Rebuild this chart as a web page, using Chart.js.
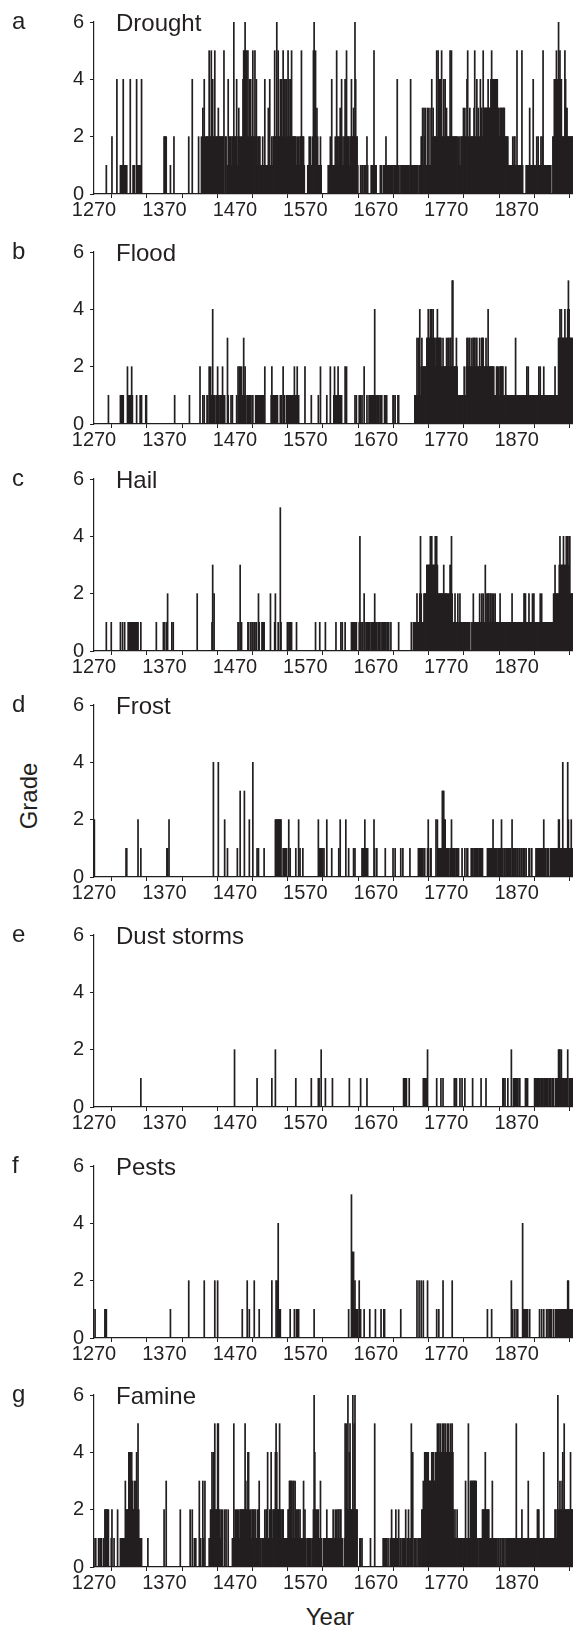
<!DOCTYPE html>
<html>
<head>
<meta charset="utf-8">
<script src="https://cdn.jsdelivr.net/npm/chart.js@4.4.1/dist/chart.umd.min.js"></script>
<style>
  html, body { margin: 0; padding: 0; background: #fff; }
  #fig { position: relative; width: 573px; height: 1627px; overflow: hidden; font-family: 'Liberation Sans', Arial, sans-serif; color: #231f20; }
  .panel { position: absolute; left: 0; width: 573px; }
  .axisTitle { position: absolute; font-size: 24px; white-space: nowrap; transform: translate(-50%, -50%); }
</style>
</head>
<body>
<div id="fig">
  <div class="axisTitle" style="left:29px; top:796px; transform: translate(-50%, -50%) rotate(-90deg);">Grade</div>
  <div class="axisTitle" style="left:330px; top:1617px;">Year</div>
</div>
<script>
const firstYear = 1270;
const lastYear = 1950;
const yearTicks = [1270, 1320, 1370, 1420, 1470, 1520, 1570, 1620, 1670, 1720, 1770, 1820, 1870, 1920];
const labelYears = [1270, 1370, 1470, 1570, 1670, 1770, 1870];
const gradeTicks = [0, 2, 4, 6];

const panelLetters = ['a', 'b', 'c', 'd', 'e', 'f', 'g'];
const panelTitles = ['Drought', 'Flood', 'Hail', 'Frost', 'Dust storms', 'Pests', 'Famine'];

// one digit per year, one string per decade (1270s, 1280s, ... 1940s)
const grades = decades => decades.join('').split('').map(Number);

const drought = grades([
  '0000000000', '0000000100', '0000020000',
  '0040000111', '1411111000', '0400011100', '4111110400', '0000000000', '0000000000', '0000000002', '2220000010', '0002000000', '0000000000',
  '0000200004', '0000000020', '0020324022', '2225225242', '2522223222', '2222502201', '4122212262', '2241232212', '2455655252', '4242252252',
  '4212221112', '1141101314', '1121225226', '2522424254', '4244254242', '5222222121', '2122522210', '0001121211', '2562523211', '1210000000',
  '0010121411', '1121522123', '2412124252', '2212242232', '6422100010', '1101110210', '0001111511', '1000001110', '0111211011', '1111101111',
  '4110101111', '1111111014', '1111011111', '0111223132', '3113131134', '2322225254', '4425224242', '3222252522', '2222221212', '1222323224',
  '5213222223', '5224232243', '3253333334', '3334544444', '4443323332', '3332222211', '1111212211', '5111111510', '0001111131', '1114111121',
  '2111212511', '1111111110', '0224245426', '4544222254', '3322222222'
]);

const flood = grades([
  '0000000000', '0000000000', '1000000000',
  '0000000111', '1100000211', '1112100000', '1000010100', '0001100000', '0000000000', '0000000000', '0000000000', '0000100000', '0000000000',
  '0000010000', '0000000000', '2000101000', '1102121141', '1101121101', '0121010003', '1000101000', '0010212212', '1131210101', '1010110001',
  '1111111111', '1120000000', '0121111101', '1000101021', '1001111111', '1111211121', '1000000002', '0000000010', '0000000010', '0200000000',
  '1000020000', '1211112111', '1100002020', '0000000000', '1010001010', '1002000100', '1111111141', '1011101010', '0011010000', '0000110100',
  '0110000000', '0000000000', '0000011131', '3141232222', '2233433434', '3433233433', '3332232222', '3233233255', '2222321111', '1111121123',
  '3233223233', '3233222322', '3332223224', '2222222211', '1221212222', '2111211111', '1111111131', '1111111011', '1111212111', '1111111111',
  '1212111121', '1111111111', '1111211113', '3434333343', '3345433333'
]);

const hail = grades([
  '0000000000', '0000000100', '0000100000',
  '0000000100', '1001000011', '1111111111', '1110001000', '0000000000', '0000000010', '0000000011', '0010200000', '1010000000', '0000000000',
  '0000000000', '0000002000', '0000000000', '0000000130', '2000000000', '0000000000', '0000000000', '0000110301', '0000000011', '0010110110',
  '1002100011', '1100000000', '2000001200', '0100510000', '0000110111', '1000000100', '0000000000', '0000000000', '0000100000', '1000000010',
  '0000000000', '0001000000', '1010001000', '0000011111', '1110001410', '1102101111', '1101111121', '1101110101', '1011101010', '0100000000',
  '0010000000', '0000000000', '1001011121', '1124211122', '2233333434', '3333434322', '2222223222', '2212233421', '1121112112', '1111111111',
  '1111001121', '1111111211', '2121132122', '2122121212', '1111112111', '1111111111', '1112111111', '1111111011', '2221111211', '1121211111',
  '1112121111', '1011111111', '1122322222', '3433334333', '4343442222'
]);

const frost = grades([
  '2000000000', '0000000000', '0000000000',
  '0000000000', '0000011000', '0000000000', '0020001000', '0000000000', '0000000000', '0000000000', '0001102000', '0000000000', '0000000000',
  '0000000000', '0000000000', '0000000000', '0000000004', '0000004000', '0000020001', '0000000000', '0001000300', '0003000000', '2000040000',
  '0101000000', '0100000000', '0000000222', '2222220011', '1111002010', '0000001000', '2010001000', '0000000000', '0000000020', '1101101000',
  '2000000100', '0000000102', '0000000200', '0100000010', '1000000000', '1111211110', '0000000210', '0100000000', '0001000000', '0000100100',
  '0000010010', '0000000010', '0000000000', '1011101011', '0001200110', '0000020211', '1111333221', '1111011211', '1110110100', '0010001001',
  '1000011101', '1101101111', '1100000011', '1111112111', '1101111121', '1011011011', '1102110110', '1101101101', '0101000110', '0100000111',
  '1111111121', '1101010011', '1111111112', '2111141111', '1142111211'
]);

const dustStorms = grades([
  '0000000000', '0000000000', '0000000000',
  '0000000000', '0000000000', '0000000000', '0000001000', '0000000000', '0000000000', '0000000000', '0000000000', '0000000000', '0000000000',
  '0000000000', '0000000000', '0000000000', '0000000000', '0000000000', '0000000000', '0000000002', '0000000000', '0000000000', '0000000000',
  '0100000000', '0000000000', '0010000200', '0000000000', '0000000000', '0000001000', '0000000000', '0000000010', '0000000011', '0020000010',
  '0000000010', '0000000000', '0000000000', '0010000000', '0000000010', '0000000100', '0000000000', '0000000000', '0000000000', '0000000000',
  '0000000001', '1111000100', '0000000000', '0000000111', '1112000000', '0000001000', '0010010000', '0000000000', '0110100001', '0010001000',
  '0000000100', '0000000001', '0000001000', '0000000000', '0000000000', '1101000100', '0020011011', '1101100000', '0011010000', '0000011011',
  '1110111101', '1011101110', '1010011112', '2212111111', '1120111111'
]);

const pests = grades([
  '0100000000', '0000011100', '0000000000',
  '0000000000', '0000000000', '0000000000', '0000000000', '0000000000', '0000000000', '0000000000', '0000000010', '0000000000', '0000000000',
  '0000200000', '0000000000', '0000002000', '0000000000', '0200020000', '0000000000', '0000000000', '0000000000', '1000000200', '1000000200',
  '0000100000', '0000000000', '0020000020', '2411100000', '0000000010', '0000100111', '1000000000', '0000000000', '0010000000', '0000000000',
  '0000000000', '0000000000', '0000000000', '0100053331', '2110102010', '0001000000', '0100000001', '0000000100', '0110000000', '0000000000',
  '0000010000', '0000000000', '0000000020', '0200200200', '0002000000', '0000001001', '0000020000', '0000000020', '0000000000', '0000000000',
  '0000000000', '0000000000', '0000000010', '0000100000', '0000000000', '0000000000', '0020100100', '1100000041', '1110110010', '0000000000',
  '0010010010', '0010101011', '0010011111', '1111111111', '1122111111'
]);

const famine = grades([
  '0110001011', '1001022222', '2000120010',
  '0002000111', '1111322224', '4424322323', '4252110100', '0000001000', '0000000000', '0000000002', '0030000000', '0000000000', '0020000000',
  '0000002002', '0010100003', '0100310300', '0001122424', '2522255221', '2020020200', '2000001051', '2122121222', '2222532244', '2121222122',
  '1122311011', '1121224112', '2421222454', '2225221221', '1111122333', '3133132212', '2121111312', '1011111101', '1264221221', '1310011111',
  '2111111112', '1121212212', '2110015252', '6245222625', '6222000110', '1000000000', '0010000050', '0000000000', '1011010100', '1021011021',
  '1020110101', '1020112011', '5140101010', '1011022324', '4444433334', '4433444545', '4544545454', '4545445454', '2121121111', '1111111311',
  '1511333333', '3331101111', '1222242222', '2111131111', '1101101101', '1101011011', '1111111115', '1111111211', '1111113111', '1111111112',
  '2211111141', '1111111011', '1111221262', '2322342522', '2222224222'
]);

const panelSeries = [drought, flood, hail, frost, dustStorms, pests, famine];

// layout: pixel row of each panel's zero line
const panelBaselines = [193.7, 424, 650.7, 877, 1107, 1337.7, 1567.3];
const plotHeight = 172, topPad = 22, xAxisHeight = 40, yAxisWidth = 94;
const ink = '#231f20';
const family = "'Liberation Sans', Arial, sans-serif";

// panel letter at far left, event name inside the plot next to the top tick
const panelText = {
  id: 'panelText',
  afterDatasetsDraw(chart) {
    const { ctx, chartArea } = chart;
    const o = chart.options.plugins.panelText;
    ctx.save();
    ctx.fillStyle = ink;
    ctx.textBaseline = 'alphabetic';
    ctx.textAlign = 'left';
    ctx.font = '24px ' + family;
    ctx.fillText(o.letter, 12, chartArea.top + 7);
    ctx.fillText(o.title, chartArea.left + 22, chartArea.top + 9);
    ctx.restore();
  }
};

const fig = document.getElementById('fig');

panelSeries.forEach((series, i) => {
  const div = document.createElement('div');
  div.className = 'panel';
  const h = topPad + plotHeight + xAxisHeight;
  div.style.top = (panelBaselines[i] - plotHeight - topPad) + 'px';
  div.style.height = h + 'px';
  const canvas = document.createElement('canvas');
  canvas.width = 573; canvas.height = h;
  div.appendChild(canvas);
  fig.appendChild(div);

  const axisStyle = {
    grid: { display: true, drawOnChartArea: false, drawTicks: true, tickLength: 4, color: ink, lineWidth: 1 },
    border: { display: true, color: ink, width: 1.2 }
  };

  new Chart(canvas, {
    type: 'bar',
    data: {
      datasets: [{
        data: series.map((g, k) => ({ x: firstYear + k + 0.5, y: g })),
        backgroundColor: ink, borderWidth: 0, barThickness: 1.05, grouped: false
      }]
    },
    options: {
      responsive: false, animation: false, events: [],
      layout: { padding: { top: topPad, right: 0, left: 0, bottom: 0 } },
      plugins: { legend: { display: false }, tooltip: { enabled: false }, panelText: { letter: panelLetters[i], title: panelTitles[i] } },
      scales: {
        x: {
          type: 'linear', min: firstYear, max: lastYear, offset: false,
          afterBuildTicks: s => { s.ticks = yearTicks.map(v => ({ value: v })); },
          afterFit: s => { s.height = xAxisHeight; },
          ticks: { autoSkip: false, maxRotation: 0, padding: 0, color: ink, font: { family, size: 20, lineHeight: 1.2 },
                   callback: v => labelYears.includes(v) ? String(v) : '' },
          ...axisStyle
        },
        y: {
          min: 0, max: 6,
          afterBuildTicks: s => { s.ticks = gradeTicks.map(v => ({ value: v })); },
          afterFit: s => { s.width = yAxisWidth; },
          ticks: { padding: 6, color: ink, font: { family, size: 20 } },
          ...axisStyle
        }
      }
    },
    plugins: [panelText]
  });
});
</script>
</body>
</html>
